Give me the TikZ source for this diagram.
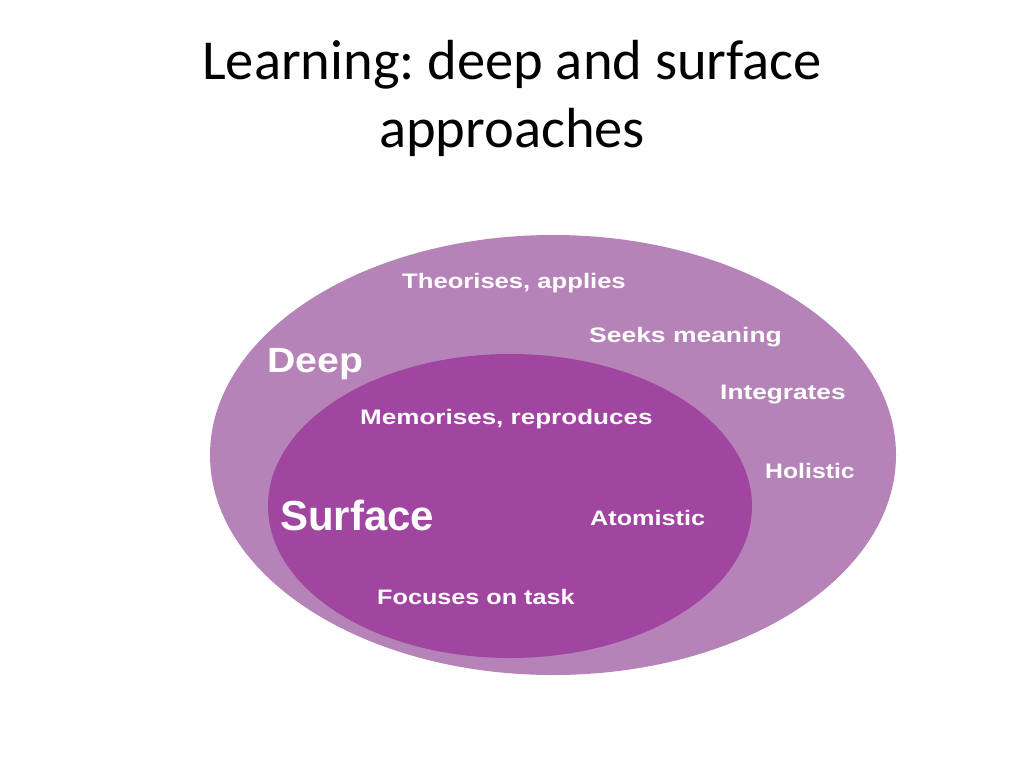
\documentclass[tikz,border=0pt]{standalone}
\usepackage{fontspec}
\usepackage{graphicx}
\setmainfont{Carlito}
\newfontfamily\labfont{Liberation Sans}
\newcommand\wideby[2]{\scalebox{#1}[1]{#2}}
\definecolor{outerc}{HTML}{B683B9}
\definecolor{innerc}{HTML}{A045A0}
\frenchspacing
\begin{document}
\begin{tikzpicture}[x=1pt,y=-1pt,
  lab/.style={text=white,font=\labfont\bfseries\fontsize{21}{25}\selectfont,inner sep=0pt,anchor=base west},
  ttl/.style={font=\fontsize{56.5}{66}\selectfont,inner sep=0pt,anchor=base}]
\useasboundingbox (0,0) rectangle (1024,768);
\fill[white] (0,0) rectangle (1024,768);
\node[ttl] (t1) at (512,79) {Learning: deep and surface};
\node[ttl] (t2) at (512,147) {approaches};
\fill[outerc] (553,455) ellipse [x radius=343, y radius=220];
\fill[innerc] (510,506) ellipse [x radius=242, y radius=152];
\node[lab] (theo) at (402,288) {\wideby{1.22}{Theorises, applies}};
\node[lab] (seek) at (589,342) {\wideby{1.26}{Seeks meaning}};
\node[lab,font=\labfont\bfseries\fontsize{35}{42}\selectfont] (deep) at (267,372) {\wideby{1.12}{Deep}};
\node[lab] (integ) at (720,399) {\wideby{1.25}{Integrates}};
\node[lab] (memo) at (360,424) {\wideby{1.24}{Memorises, reproduces}};
\node[lab] (holi) at (765,478) {\wideby{1.18}{Holistic}};
\node[lab,font=\labfont\bfseries\fontsize{42}{50}\selectfont] (surf) at (280,530) {Surface};
\node[lab] (atom) at (590,525) {\wideby{1.2}{Atomistic}};
\node[lab] (focus) at (377,604) {\wideby{1.2}{Focuses on task}};
\end{tikzpicture}
\end{document}
